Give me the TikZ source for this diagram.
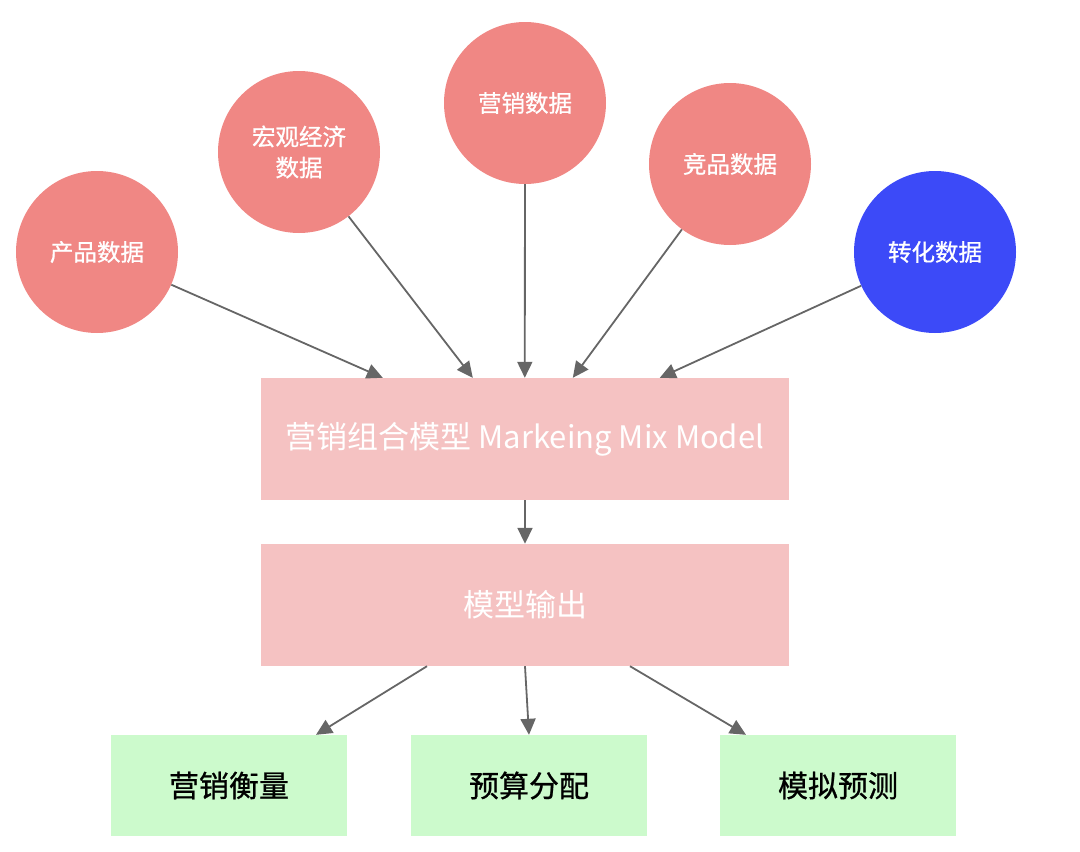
\documentclass[tikz,border=0pt]{standalone}
\usepackage{fontspec}
\setmainfont{Noto Sans CJK SC}
\newfontfamily\cjkmed[FakeBold=0.8]{Noto Sans CJK SC}
\usetikzlibrary{arrows.meta,calc}
\definecolor{cred}{HTML}{F08784}
\definecolor{cblue}{HTML}{3C4AF8}
\definecolor{cpink}{HTML}{F5C2C2}
\definecolor{cgreen}{HTML}{CCFACC}
\definecolor{carrow}{HTML}{666666}
\begin{document}
\begin{tikzpicture}[x=1pt,y=-1pt,
  src/.style={circle,fill=cred,minimum size=162pt,inner sep=0pt,text=white,align=center,font=\cjkmed\fontsize{23.5}{31}\selectfont},
  bigbox/.style={rectangle,fill=cpink,minimum width=528pt,minimum height=122pt,inner sep=0pt,text=white,font=\fontsize{31}{36}\selectfont},
  outbox/.style={rectangle,fill=cgreen,minimum width=236pt,minimum height=101pt,inner sep=0pt,text=black,font=\cjkmed\fontsize{30}{36}\selectfont},
  conn/.style={draw=carrow,line width=1.8pt,-{Triangle[length=16pt,width=15pt]}}]
\useasboundingbox (0,0) rectangle (1080,852);
\node[src] (c1) at (97,252) {产品数据};
\node[src] (c2) at (299,152) {宏观经济\\数据};
\node[src] (c3) at (525,103) {营销数据};
\node[src] (c4) at (730,164) {竞品数据};
\node[src,fill=cblue] (c5) at (935,252) {转化数据};
\node[bigbox] (m) at (525,439) {营销组合模型 Markeing Mix Model};
\node[bigbox] (o) at (525,605) {模型输出};
\node[outbox] (g1) at (229,785.5) {营销衡量};
\node[outbox] (g2) at (529,785.5) {预算分配};
\node[outbox] (g3) at (838,785.5) {模拟预测};
\draw[conn] (c1) -- ($(m.north west)+(122,0)$);
\draw[conn] (c2) -- ($(m.north west)+(212,0)$);
\draw[conn] (c3) -- ($(m.north west)+(264,0)$);
\draw[conn] (c4) -- ($(m.north west)+(312,0)$);
\draw[conn] (c5) -- ($(m.north west)+(399,0)$);
\draw[conn] (m.south) -- (o.north);
\draw[conn] ($(o.south)+(-98,0)$) -- ($(g1.north)+(87,0)$);
\draw[conn] (o.south) -- (g2.north);
\draw[conn] ($(o.south)+(105,0)$) -- ($(g3.north)+(-92,0)$);
\end{tikzpicture}
\end{document}
